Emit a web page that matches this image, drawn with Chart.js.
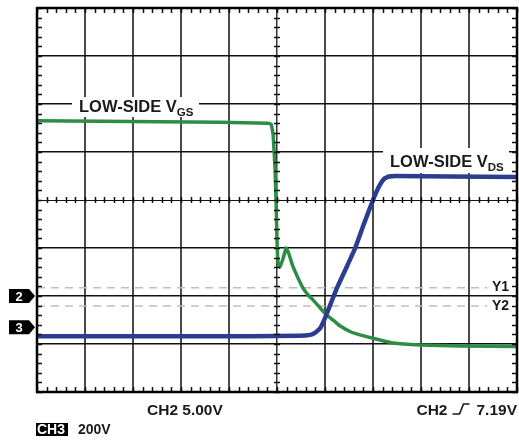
<!DOCTYPE html>
<html>
<head>
<meta charset="utf-8">
<script src="https://cdn.jsdelivr.net/npm/chart.js@4.4.1/dist/chart.umd.min.js"></script>
<style>
  html, body { margin: 0; padding: 0; background: #fff; }
  #scope { display: block; }
</style>
</head>
<body>
<canvas id="scope" width="519" height="441"></canvas>
<script>
// screen units: x = time divisions (0..10), y = vertical divisions (-4..4)
const vgsTime = [0, 1.31, 2.56, 3.81, 4.81, 4.88, 4.92, 4.96, 4.98, 5.0, 5.02, 5.06, 5.13, 5.19, 5.25, 5.33, 5.44, 5.54, 5.65, 5.75, 5.9, 6.04, 6.19, 6.31, 6.52, 6.73, 7.0, 7.42, 7.98, 8.81, 10];
const vgsLevel = [1.65, 1.64, 1.63, 1.62, 1.6, 1.58, 1.35, 0.63, 0, -0.83, -1.29, -1.4, -1.21, -1.0, -1.13, -1.38, -1.63, -1.83, -1.98, -2.08, -2.25, -2.4, -2.52, -2.62, -2.74, -2.81, -2.88, -2.98, -3.02, -3.04, -3.05];

const vdsTime = [0, 2.35, 4.44, 5.48, 5.69, 5.79, 5.9, 6.0, 6.13, 6.25, 6.44, 6.63, 6.81, 7.0, 7.13, 7.23, 7.33, 7.46, 8.6, 10];
const vdsLevel = [-2.84, -2.84, -2.84, -2.83, -2.81, -2.77, -2.67, -2.46, -2.13, -1.83, -1.42, -1.0, -0.5, 0, 0.29, 0.44, 0.49, 0.5, 0.49, 0.48];

const cursorY1 = -1.83;
const cursorY2 = -2.21;
const cursorEnd = 9.38;

const ch2Ground = -2;
const ch3Ground = -2.65;

const bottomLabels = ['CH2 5.00V', 'CH2', '7.19V', 'CH3', '200V'];

function pts(xs, ys) {
    return xs.map((x, i) => ({ x: x, y: ys[i] }));
}

const scopeDecor = {
    id: 'scopeDecor',
    afterDraw(chart) {
        const ctx = chart.ctx;
        const xs = chart.scales.x, ys = chart.scales.y;
        const a = chart.chartArea;
        ctx.save();

        // minor ticks on borders and centre lines
        ctx.strokeStyle = '#111';
        ctx.lineWidth = 1.5;
        const cx = xs.getPixelForValue(5), cy = ys.getPixelForValue(0);
        for (let v = 0; v <= 10.001; v += 0.2) {
            const px = Math.round(xs.getPixelForValue(v)) + 0.5;
            ctx.beginPath();
            ctx.moveTo(px, a.top); ctx.lineTo(px, a.top + 5);
            ctx.moveTo(px, a.bottom); ctx.lineTo(px, a.bottom - 5);
            ctx.moveTo(px, cy - 3); ctx.lineTo(px, cy + 3);
            ctx.stroke();
        }
        for (let v = -4; v <= 4.001; v += 0.2) {
            const py = Math.round(ys.getPixelForValue(v)) + 0.5;
            ctx.beginPath();
            ctx.moveTo(a.left, py); ctx.lineTo(a.left + 5, py);
            ctx.moveTo(a.right, py); ctx.lineTo(a.right - 5, py);
            ctx.moveTo(cx - 3, py); ctx.lineTo(cx + 3, py);
            ctx.stroke();
        }

        // frame
        ctx.lineWidth = 2.5;
        ctx.strokeStyle = '#000';
        ctx.strokeRect(a.left, a.top, a.right - a.left, a.bottom - a.top);

        // trace labels with white boxes
        function label(x, y, main, sub, boxL, boxR, boxT, boxB) {
            ctx.fillStyle = '#fff';
            ctx.fillRect(boxL, boxT, boxR - boxL, boxB - boxT);
            ctx.fillStyle = '#1a1a1a';
            ctx.font = 'bold 16.5px "Liberation Sans", Arial, sans-serif';
            ctx.textAlign = 'left';
            ctx.textBaseline = 'alphabetic';
            ctx.fillText(main, x, y);
            const w = ctx.measureText(main).width;
            ctx.font = 'bold 11.5px "Liberation Sans", Arial, sans-serif';
            ctx.fillText(sub, x + w, y + 4);
        }
        label(79, 112, 'LOW-SIDE V', 'GS', 72, 199, 97, 117);
        label(390, 167, 'LOW-SIDE V', 'DS', 383, 509, 148, 173);

        // cursor labels
        ctx.fillStyle = '#1a1a1a';
        ctx.font = 'bold 14px "Liberation Sans", Arial, sans-serif';
        ctx.textAlign = 'right';
        ctx.textBaseline = 'middle';
        ctx.fillText('Y1', 509, ys.getPixelForValue(cursorY1) - 1);
        ctx.fillText('Y2', 509, ys.getPixelForValue(cursorY2) + 0);

        // channel ground markers
        function marker(txt, v) {
            const y = ys.getPixelForValue(v);
            ctx.fillStyle = '#000';
            ctx.beginPath();
            ctx.moveTo(9, y - 7);
            ctx.lineTo(29, y - 7);
            ctx.lineTo(35, y);
            ctx.lineTo(29, y + 7);
            ctx.lineTo(9, y + 7);
            ctx.closePath();
            ctx.fill();
            ctx.fillStyle = '#fff';
            ctx.font = 'bold 13px "Liberation Sans", Arial, sans-serif';
            ctx.textAlign = 'center';
            ctx.textBaseline = 'middle';
            ctx.fillText(txt, 19, y + 1);
        }
        marker('2', ch2Ground);
        marker('3', ch3Ground);

        // bottom readouts
        ctx.fillStyle = '#1a1a1a';
        ctx.font = 'bold 15.5px "Liberation Sans", Arial, sans-serif';
        ctx.textAlign = 'left';
        ctx.textBaseline = 'alphabetic';
        ctx.fillText(bottomLabels[0], 147, 415);

        ctx.textAlign = 'right';
        ctx.fillText(bottomLabels[2], 517, 415);
        const wv = ctx.measureText(bottomLabels[2]).width;
        // rising edge trigger symbol
        const sx = 517 - wv - 24;
        ctx.strokeStyle = '#1a1a1a';
        ctx.lineWidth = 1.6;
        ctx.beginPath();
        ctx.moveTo(sx, 414);
        ctx.lineTo(sx + 7, 414);
        ctx.lineTo(sx + 11, 404);
        ctx.lineTo(sx + 17, 404);
        ctx.stroke();
        ctx.fillText(bottomLabels[1], sx - 5, 415);

        ctx.fillStyle = '#000';
        ctx.fillRect(36, 423, 32, 13);
        ctx.fillStyle = '#fff';
        ctx.textAlign = 'left';
        ctx.font = 'bold 14px "Liberation Sans", Arial, sans-serif';
        ctx.fillText(bottomLabels[3], 37, 434);
        ctx.fillStyle = '#1a1a1a';
        ctx.fillText(bottomLabels[4], 78, 434);

        ctx.restore();
    }
};

new Chart(document.getElementById('scope').getContext('2d'), {
    type: 'line',
    data: {
        datasets: [
            {
                label: 'Low-side VDS',
                data: pts(vdsTime, vdsLevel),
                borderColor: '#2b3d8e',
                borderWidth: 4.5,
                pointRadius: 0,
                tension: 0.1
            },
            {
                label: 'Low-side VGS',
                data: pts(vgsTime, vgsLevel),
                borderColor: '#2e8d45',
                borderWidth: 3.5,
                pointRadius: 0,
                tension: 0.1
            },
            {
                label: 'Y1',
                data: [{ x: 0, y: cursorY1 }, { x: cursorEnd, y: cursorY1 }],
                borderColor: '#bdbdbd',
                borderWidth: 1.5,
                borderDash: [8, 6],
                pointRadius: 0
            },
            {
                label: 'Y2',
                data: [{ x: 0, y: cursorY2 }, { x: cursorEnd, y: cursorY2 }],
                borderColor: '#bdbdbd',
                borderWidth: 1.5,
                borderDash: [8, 6],
                pointRadius: 0
            }
        ]
    },
    options: {
        responsive: false,
        animation: false,
        layout: { padding: { left: 37, right: 2, top: 8, bottom: 49 } },
        plugins: { legend: { display: false }, tooltip: { enabled: false } },
        scales: {
            x: {
                type: 'linear',
                min: 0,
                max: 10,
                afterFit(s) { s.height = 0; },
                ticks: { display: false, stepSize: 1 },
                border: { display: false },
                grid: {
                    drawTicks: false,
                    color: ctx => ctx.tick.value === 5 ? '#333' : '#4a4a4a',
                    lineWidth: ctx => ctx.tick.value === 5 ? 1.5 : 2
                }
            },
            y: {
                type: 'linear',
                min: -4,
                max: 4,
                afterFit(s) { s.width = 0; },
                ticks: { display: false, stepSize: 1 },
                border: { display: false },
                grid: {
                    drawTicks: false,
                    color: '#111',
                    lineWidth: ctx => ctx.tick.value === 0 ? 1 : 1.5
                }
            }
        }
    },
    plugins: [scopeDecor]
});
</script>
</body>
</html>
